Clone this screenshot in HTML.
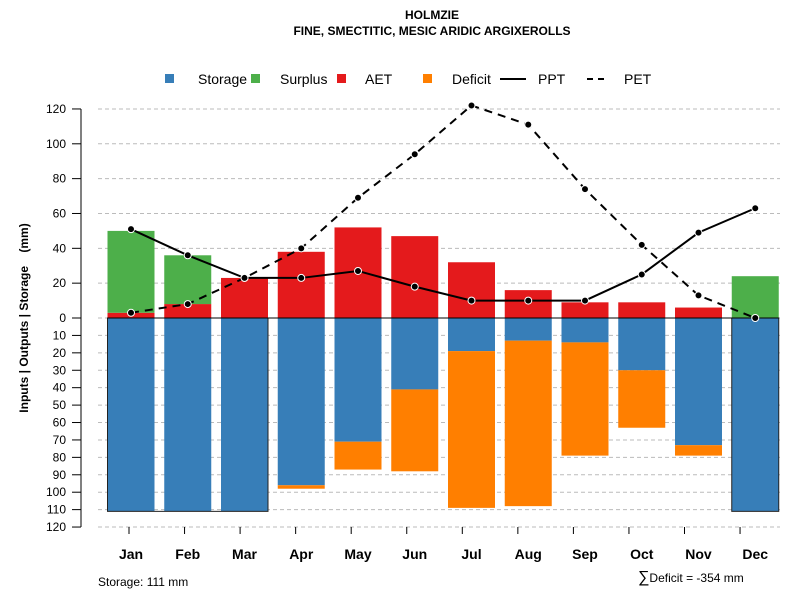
<!DOCTYPE html>
<html><head><meta charset="utf-8"><style>
body{margin:0;background:#fff}
svg{display:block;font-family:"Liberation Sans",Arial,sans-serif}
</style></head><body>
<svg id="c" width="800" height="600">
<text x="432" y="19" text-anchor="middle" font-size="12" font-weight="bold">HOLMZIE</text>
<text x="432" y="35" text-anchor="middle" font-size="12" font-weight="bold">FINE, SMECTITIC, MESIC ARIDIC ARGIXEROLLS</text>
<g font-size="14">
<rect x="165" y="74" width="9" height="9" fill="#377EB8"/>
<text x="198" y="84">Storage</text>
<rect x="251" y="74" width="9" height="9" fill="#4DAF4A"/>
<text x="280" y="84">Surplus</text>
<rect x="337" y="74" width="9" height="9" fill="#E41A1C"/>
<text x="365" y="84">AET</text>
<rect x="423" y="74" width="9" height="9" fill="#FF7F00"/>
<text x="452" y="84">Deficit</text>
<line x1="500" y1="79" x2="526" y2="79" stroke="#000" stroke-width="2"/>
<text x="538" y="84">PPT</text>
<line x1="587" y1="79" x2="609" y2="79" stroke="#000" stroke-width="2" stroke-dasharray="6,5"/>
<text x="624" y="84">PET</text>
</g>
<text transform="translate(28,318) rotate(-90)" text-anchor="middle" font-size="12" font-weight="bold" style="white-space:pre">Inputs | Outputs | Storage    (mm)</text>
<text x="98" y="586" font-size="12">Storage: 111 mm</text>
<text x="638" y="582" font-size="12"><tspan font-size="16">∑</tspan>Deficit = -354 mm</text>
<g id="grid"></g><g id="bars"></g><g id="lines"></g><g id="axes"></g>
</svg>
<script>
const months=["Jan","Feb","Mar","Apr","May","Jun","Jul","Aug","Sep","Oct","Nov","Dec"];
const storage=[111,111,111,96,71,41,19,13,14,30,73,111];
const deficit=[0,0,0,2,16,47,90,95,65,33,6,0];
const aet=[3,8,23,38,52,47,32,16,9,9,6,0];
const surplus=[47,28,0,0,0,0,0,0,0,0,0,24];
const ppt=[51,36,23,23,27,18,10,10,10,25,49,63];
const pet=[3,8,23,40,69,94,122,111,74,42,13,0];
const upTicks=[0,20,40,60,80,100,120];
const downTicks=[10,20,30,40,50,60,70,80,90,100,110,120];
const NS="http://www.w3.org/2000/svg";
const y0=318,k=1.742;
const yU=v=>y0-v*k, yD=v=>y0+v*k;
const xc=i=>131+i*56.75, bw=47;
const xt=i=>129+i*55.55;
function mk(p,t,a){const e=document.createElementNS(NS,t);for(const q in a)e.setAttribute(q,a[q]);document.getElementById(p).appendChild(e);return e;}
upTicks.forEach(v=>{
 const g=mk('grid','line',{x1:98,x2:780,y1:yU(v),y2:yU(v),stroke:'#bbb','stroke-dasharray':'4,3'});
 
 
 const t=mk('axes','line',{x1:72,x2:81,y1:yU(v),y2:yU(v),stroke:'#000'});
 
 
 const l=mk('axes','text',{x:66,y:yU(v)+4,'text-anchor':'end','font-size':12});l.textContent=v;
 
 
});
downTicks.forEach(v=>{
 const g=mk('grid','line',{x1:98,x2:780,y1:yD(v),y2:yD(v),stroke:'#bbb','stroke-dasharray':'4,3'});
 
 
 const t=mk('axes','line',{x1:72,x2:81,y1:yD(v),y2:yD(v),stroke:'#000'});
 
 
 const l=mk('axes','text',{x:66,y:yD(v)+4,'text-anchor':'end','font-size':12});l.textContent=v;
 
 
});
const ax=mk('axes','line',{x1:81,x2:81,y1:yU(120),y2:yD(120),stroke:'#000'});


months.forEach((m,i)=>{
 const x=xc(i)-bw/2;
 const s=mk('bars','rect',{x:x,y:y0,width:bw,height:storage[i]*k,fill:'#377EB8'});
 
 
 if(deficit[i]>0){const d=mk('bars','rect',{x:x,y:yD(storage[i]),width:bw,height:deficit[i]*k,fill:'#FF7F00'});
 
 }
 if(aet[i]>0){const a=mk('bars','rect',{x:x,y:yU(aet[i]),width:bw,height:aet[i]*k,fill:'#E41A1C'});
 
 }
 if(surplus[i]>0){const p=mk('bars','rect',{x:x,y:yU(aet[i]+surplus[i]),width:bw,height:surplus[i]*k,fill:'#4DAF4A'});
 
 }
 const t=mk('axes','line',{x1:xt(i),x2:xt(i),y1:527,y2:534,stroke:'#000'});
 
 
 const l=mk('axes','text',{x:xc(i),y:559,'text-anchor':'middle','font-size':14,'font-weight':'bold'});l.textContent=m;
 
 
});
[[0,2],[11,11]].forEach(r=>{
 const o=mk('bars','rect',{x:xc(r[0])-bw/2,y:y0,width:xc(r[1])-xc(r[0])+bw,height:111*k,fill:'none',stroke:'#222','stroke-width':1});
 
 
});
const zl=mk('bars','line',{x1:xc(0)-bw/2,x2:xc(11)+bw/2,y1:y0,y2:y0,stroke:'#000'});


function series(arr,name,dash){
 const pl=mk('lines','polyline',{points:arr.map((v,i)=>xc(i)+','+yU(v)).join(' '),fill:'none',stroke:'#000','stroke-width':2,'stroke-dasharray':dash});
 
 
 arr.forEach((v,i)=>{const c=mk('lines','circle',{cx:xc(i),cy:yU(v),r:3.5,fill:'#000',stroke:'#fff','stroke-width':1});
 
 });
}
series(ppt,'ppt','none');
series(pet,'pet','8,6');
</script>
</body></html>
